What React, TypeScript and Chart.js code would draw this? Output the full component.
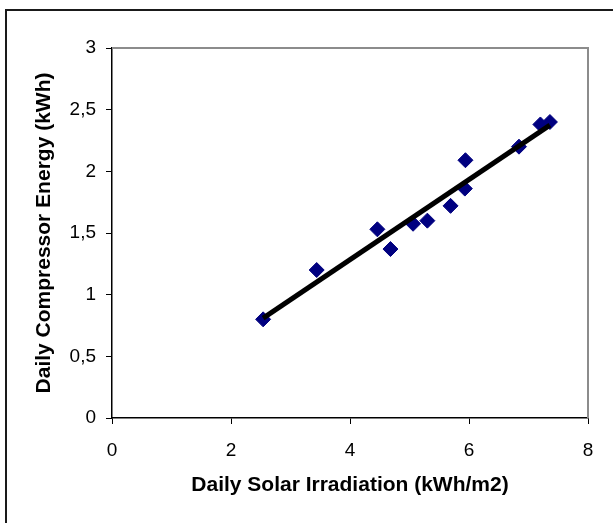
import React, { useEffect, useRef } from "react";
import { Chart, registerables } from "chart.js";

Chart.register(...registerables);

const irradiation = [2.54, 3.44, 4.46, 4.68, 5.06, 5.3, 5.69, 5.93, 5.94, 6.84, 7.2, 7.36];
const compressorEnergy = [0.8, 1.2, 1.53, 1.37, 1.575, 1.6, 1.72, 1.86, 2.09, 2.2, 2.38, 2.4];
const trendX = [2.54, 7.36];
const trendY = [0.81, 2.375];
const xTickValues = [0, 2, 4, 6, 8];
const yTickValues = [0, 0.5, 1, 1.5, 2, 2.5, 3];
const yTickLabels = ["0", "0,5", "1", "1,5", "2", "2,5", "3"];
const xTitle = "Daily Solar Irradiation (kWh/m2)";
const yTitle = "Daily Compressor Energy (kWh)";

const FONT = "'Liberation Sans', Arial, sans-serif";

const framePlugin = {
  id: "frame",
  afterDraw(chart: any) {
    const { ctx, chartArea } = chart;
    ctx.save();
    ctx.fillStyle = "#1a1a1a";
    ctx.fillRect(5, 9, 2, 514);
    ctx.fillRect(5, 9, 608, 2);
    ctx.strokeStyle = "#8c8c8c";
    ctx.lineWidth = 2;
    ctx.beginPath();
    ctx.moveTo(chartArea.left, chartArea.top);
    ctx.lineTo(chartArea.right, chartArea.top);
    ctx.lineTo(chartArea.right, chartArea.bottom);
    ctx.stroke();
    ctx.restore();
  },
};

export default function App() {
  const ref = useRef<HTMLCanvasElement | null>(null);

  useEffect(() => {
    if (!ref.current) return;
    const chart = new Chart(ref.current, {
      type: "scatter",
      data: {
        datasets: [
          {
            label: "trend",
            type: "line",
            data: trendX.map((x, i) => ({ x, y: trendY[i] })),
            borderColor: "#000000",
            borderWidth: 5,
            pointRadius: 0,
            fill: false,
            order: 0,
          },
          {
            label: "data",
            data: irradiation.map((x, i) => ({ x, y: compressorEnergy[i] })),
            pointStyle: "rectRot",
            pointRadius: 7.5,
            backgroundColor: "#000080",
            borderColor: "#000080",
            borderWidth: 1,
            order: 1,
          },
        ],
      },
      options: {
        responsive: false,
        animation: false,
        layout: { padding: { top: 48, right: 25, left: 0, bottom: 0 } },
        plugins: { legend: { display: false }, tooltip: { enabled: false } },
        scales: {
          x: {
            type: "linear",
            min: 0,
            max: 8,
            afterFit(scale: any) {
              scale.height = 105;
            },
            afterBuildTicks(scale: any) {
              scale.ticks = xTickValues.map((v) => ({ value: v }));
            },
            ticks: {
              color: "#000",
              font: { family: FONT, size: 19 },
              padding: 15,
              maxRotation: 0,
              callback: (v: any) => String(v),
            },
            grid: { drawOnChartArea: false, drawTicks: true, tickLength: 6, color: "#000", lineWidth: 1 },
            border: { display: true, color: "#000", width: 1.5 },
            title: {
              display: true,
              text: xTitle,
              color: "#000",
              font: { family: FONT, size: 21, weight: "bold" },
              padding: { top: 0, bottom: 25 },
            },
          },
          y: {
            type: "linear",
            min: 0,
            max: 3,
            afterFit(scale: any) {
              scale.width = 112;
            },
            afterBuildTicks(scale: any) {
              scale.ticks = yTickValues.map((v) => ({ value: v }));
            },
            ticks: {
              color: "#000",
              font: { family: FONT, size: 19 },
              padding: 10,
              callback: (v: any) => {
                const i = yTickValues.indexOf(Number(v));
                return i >= 0 ? yTickLabels[i] : "";
              },
            },
            grid: { drawOnChartArea: false, drawTicks: true, tickLength: 6, color: "#000", lineWidth: 1 },
            border: { display: true, color: "#000", width: 1.5 },
            title: {
              display: true,
              text: yTitle,
              color: "#000",
              font: { family: FONT, size: 21, weight: "bold" },
              padding: { top: 32, bottom: 0 },
            },
          },
        },
      },
      plugins: [framePlugin],
    });
    return () => chart.destroy();
  }, []);

  return (
    <div style={{ position: "absolute", left: 0, top: 0, width: 613, height: 523, background: "#fff" }}>
      <canvas ref={ref} width={613} height={523} style={{ display: "block" }} />
    </div>
  );
}
